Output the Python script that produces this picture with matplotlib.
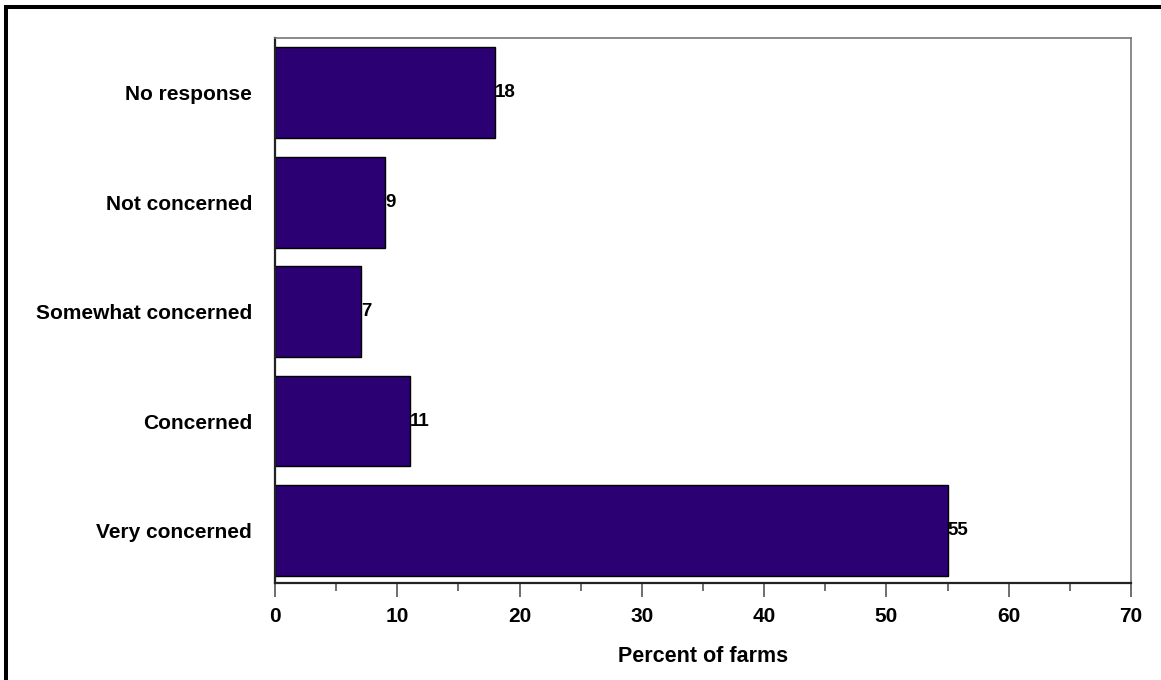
import matplotlib
matplotlib.use("Agg")
import matplotlib.pyplot as plt
from matplotlib.patches import Rectangle
from matplotlib.ticker import MultipleLocator

categories = ["Very concerned", "Concerned", "Somewhat concerned", "Not concerned", "No response"]
values = [55, 11, 7, 9, 18]
xticks = [0, 10, 20, 30, 40, 50, 60, 70]
xlabel = "Percent of farms"

plt.rcParams['font.family'] = ['Liberation Sans', 'DejaVu Sans']
plt.rcParams['font.weight'] = 'bold'

W, H = 1161, 680
fig = plt.figure(figsize=(W/100, H/100), dpi=100)
ax = fig.add_axes([275/W, 1-583/H, (1131-275)/W, (583-38)/H])

ypos = list(range(len(categories)))
bars = ax.barh(ypos, values, height=0.83, color="#2A0073", edgecolor="black", linewidth=1.0)
for y, v in zip(ypos, values):
    ax.text(v + 0.02, y, str(v), va="center", ha="left", fontsize=13.5, fontweight="bold", color="black")

ax.set_xlim(0, 70)
ax.set_ylim(-0.48, 4.5)
ax.set_xticks(xticks)
ax.set_xticklabels([str(t) for t in xticks])
ax.xaxis.set_minor_locator(MultipleLocator(5))
ax.set_yticks(ypos)
ax.set_yticklabels(categories)

ax.tick_params(axis='x', which='major', length=10, width=1.2, color="#555555", pad=7, labelsize=15)
ax.tick_params(axis='x', which='minor', length=5.8, width=1.2, color="#555555")
ax.tick_params(axis='y', which='both', length=0, pad=16.5, labelsize=15)
for lab in ax.get_xticklabels() + ax.get_yticklabels():
    lab.set_fontweight("bold")

ax.set_xlabel(xlabel, fontsize=15.5, fontweight="bold", labelpad=15)

for side in ["left", "bottom"]:
    ax.spines[side].set_color("#222222")
    ax.spines[side].set_linewidth(1.6)
for side in ["top", "right"]:
    ax.spines[side].set_color("#777777")
    ax.spines[side].set_linewidth(1.2)

# outer frame (only top and left edges visible in the reference)
frame = Rectangle((5.5/W, -0.5), 2.0, 1.5 - 6.5/H, transform=fig.transFigure,
                  fill=False, edgecolor="black", linewidth=2.9, clip_on=False)
fig.patches.append(frame)

fig.savefig("out.png", dpi=100)
